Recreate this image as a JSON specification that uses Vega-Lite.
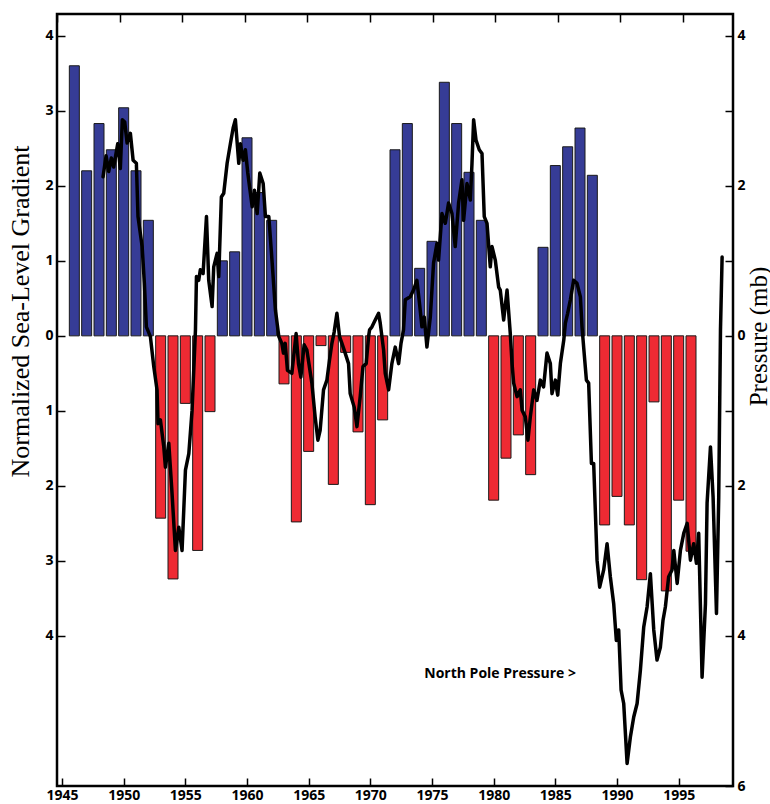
{
  "$schema": "https://vega.github.io/schema/vega-lite/v6.json",
  "width": 676,
  "height": 772,
  "autosize": {"type": "none"},
  "padding": {"left": 57, "top": 14, "right": 37, "bottom": 18},
  "background": "white",
  "config": {
    "view": {"stroke": "black", "strokeWidth": 2.5},
    "axis": {
      "domain": false,
      "grid": false,
      "ticks": true,
      "tickSize": -8,
      "tickColor": "black",
      "tickWidth": 1.5,
      "labelFont": "Open Sans",
      "labelFontWeight": "bold",
      "labelFontSize": 14,
      "labelColor": "black",
      "labelFlush": false,
      "labelOverlap": false,
      "titleFont": "Liberation Serif",
      "titleFontWeight": "normal",
      "titleFontSize": 26,
      "titleColor": "black"
    }
  },
  "datasets": {
    "bars": [
      {"year": 1946, "v": 3.6}, {"year": 1947, "v": 2.2}, {"year": 1948, "v": 2.83}, {"year": 1949, "v": 2.48},
      {"year": 1950, "v": 3.04}, {"year": 1951, "v": 2.2}, {"year": 1952, "v": 1.54}, {"year": 1953, "v": -2.43},
      {"year": 1954, "v": -3.24}, {"year": 1955, "v": -0.9}, {"year": 1956, "v": -2.86}, {"year": 1957, "v": -1.01},
      {"year": 1958, "v": 1.0}, {"year": 1959, "v": 1.12}, {"year": 1960, "v": 2.64}, {"year": 1961, "v": 1.91},
      {"year": 1962, "v": 1.54}, {"year": 1963, "v": -0.64}, {"year": 1964, "v": -2.48}, {"year": 1965, "v": -1.54},
      {"year": 1966, "v": -0.13}, {"year": 1967, "v": -1.98}, {"year": 1968, "v": -0.22}, {"year": 1969, "v": -1.28},
      {"year": 1970, "v": -2.25}, {"year": 1971, "v": -1.12}, {"year": 1972, "v": 2.48}, {"year": 1973, "v": 2.83},
      {"year": 1974, "v": 0.9}, {"year": 1975, "v": 1.26}, {"year": 1976, "v": 3.38}, {"year": 1977, "v": 2.83},
      {"year": 1978, "v": 2.18}, {"year": 1979, "v": 1.54}, {"year": 1980, "v": -2.19}, {"year": 1981, "v": -1.63},
      {"year": 1982, "v": -1.32}, {"year": 1983, "v": -1.85}, {"year": 1984, "v": 1.18}, {"year": 1985, "v": 2.27},
      {"year": 1986, "v": 2.52}, {"year": 1987, "v": 2.77}, {"year": 1988, "v": 2.14}, {"year": 1989, "v": -2.52},
      {"year": 1990, "v": -2.14}, {"year": 1991, "v": -2.52}, {"year": 1992, "v": -3.25}, {"year": 1993, "v": -0.88},
      {"year": 1994, "v": -3.4}, {"year": 1995, "v": -2.19}, {"year": 1996, "v": -2.87}
    ],
    "pressure": [
      {"year": 1948.68, "p": 2.12}, {"year": 1948.92, "p": 2.4}, {"year": 1949.13, "p": 2.19}, {"year": 1949.34, "p": 2.37},
      {"year": 1949.53, "p": 2.25}, {"year": 1949.85, "p": 2.56}, {"year": 1950.06, "p": 2.23}, {"year": 1950.22, "p": 2.88},
      {"year": 1950.41, "p": 2.85}, {"year": 1950.6, "p": 2.57}, {"year": 1950.86, "p": 2.7}, {"year": 1951.08, "p": 2.34},
      {"year": 1951.34, "p": 2.3}, {"year": 1951.47, "p": 1.59}, {"year": 1951.8, "p": 1.19}, {"year": 1951.98, "p": 0.7},
      {"year": 1952.14, "p": 0.12}, {"year": 1952.46, "p": -0.01}, {"year": 1952.73, "p": -0.41}, {"year": 1952.99, "p": -0.72},
      {"year": 1953.07, "p": -1.17}, {"year": 1953.26, "p": -1.12}, {"year": 1953.53, "p": -1.48}, {"year": 1953.66, "p": -1.75},
      {"year": 1953.93, "p": -1.43}, {"year": 1954.19, "p": -2.1}, {"year": 1954.46, "p": -2.86}, {"year": 1954.73, "p": -2.55},
      {"year": 1954.99, "p": -2.86}, {"year": 1955.26, "p": -1.79}, {"year": 1955.53, "p": -1.57}, {"year": 1955.79, "p": -0.99},
      {"year": 1956.06, "p": 0.08}, {"year": 1956.14, "p": 0.79}, {"year": 1956.32, "p": 0.74}, {"year": 1956.45, "p": 0.88},
      {"year": 1956.67, "p": 0.83}, {"year": 1956.94, "p": 1.59}, {"year": 1957.12, "p": 0.74}, {"year": 1957.39, "p": 0.39},
      {"year": 1957.52, "p": 0.92}, {"year": 1957.79, "p": 1.1}, {"year": 1957.92, "p": 0.79}, {"year": 1958.13, "p": 1.85},
      {"year": 1958.32, "p": 1.9}, {"year": 1958.59, "p": 2.3}, {"year": 1958.85, "p": 2.56}, {"year": 1959.07, "p": 2.77},
      {"year": 1959.25, "p": 2.88}, {"year": 1959.52, "p": 2.3}, {"year": 1959.65, "p": 2.56}, {"year": 1959.87, "p": 2.34},
      {"year": 1960.05, "p": 2.48}, {"year": 1960.24, "p": 2.17}, {"year": 1960.59, "p": 1.72}, {"year": 1960.77, "p": 1.94},
      {"year": 1960.99, "p": 1.63}, {"year": 1961.2, "p": 2.17}, {"year": 1961.47, "p": 2.03}, {"year": 1961.65, "p": 1.59},
      {"year": 1961.92, "p": 1.59}, {"year": 1962.19, "p": 0.97}, {"year": 1962.45, "p": 0.34}, {"year": 1962.72, "p": -0.01},
      {"year": 1962.96, "p": -0.1}, {"year": 1963.09, "p": -0.23}, {"year": 1963.23, "p": -0.1}, {"year": 1963.41, "p": -0.46},
      {"year": 1963.76, "p": -0.5}, {"year": 1964.1, "p": 0.03}, {"year": 1964.29, "p": -0.37}, {"year": 1964.48, "p": -0.55},
      {"year": 1964.74, "p": -0.12}, {"year": 1964.96, "p": -0.19}, {"year": 1965.36, "p": -0.63}, {"year": 1965.62, "p": -1.08},
      {"year": 1965.84, "p": -1.39}, {"year": 1966.02, "p": -1.26}, {"year": 1966.29, "p": -0.72}, {"year": 1966.56, "p": -0.59},
      {"year": 1966.77, "p": -0.32}, {"year": 1966.96, "p": -0.1}, {"year": 1967.14, "p": 0.05}, {"year": 1967.36, "p": 0.3},
      {"year": 1967.57, "p": -0.01}, {"year": 1967.76, "p": -0.1}, {"year": 1968.02, "p": -0.23}, {"year": 1968.29, "p": -0.37},
      {"year": 1968.42, "p": -0.77}, {"year": 1968.74, "p": -0.95}, {"year": 1968.96, "p": -1.21}, {"year": 1969.22, "p": -0.81},
      {"year": 1969.44, "p": -0.41}, {"year": 1969.7, "p": -0.37}, {"year": 1969.89, "p": -0.01}, {"year": 1969.97, "p": 0.08},
      {"year": 1970.16, "p": 0.12}, {"year": 1970.42, "p": 0.21}, {"year": 1970.69, "p": 0.3}, {"year": 1970.82, "p": 0.17},
      {"year": 1971.09, "p": -0.19}, {"year": 1971.22, "p": -0.5}, {"year": 1971.49, "p": -0.72}, {"year": 1971.75, "p": -0.37},
      {"year": 1972.02, "p": -0.15}, {"year": 1972.29, "p": -0.37}, {"year": 1972.48, "p": -0.1}, {"year": 1972.68, "p": 0.08},
      {"year": 1972.82, "p": 0.48}, {"year": 1973.22, "p": 0.52}, {"year": 1973.48, "p": 0.61}, {"year": 1973.75, "p": 0.74},
      {"year": 1973.96, "p": 0.43}, {"year": 1974.15, "p": 0.12}, {"year": 1974.34, "p": 0.25}, {"year": 1974.55, "p": -0.15},
      {"year": 1974.82, "p": 0.25}, {"year": 1975.08, "p": 0.97}, {"year": 1975.35, "p": 1.23}, {"year": 1975.48, "p": 1.01},
      {"year": 1975.75, "p": 1.63}, {"year": 1976.02, "p": 1.5}, {"year": 1976.28, "p": 1.77}, {"year": 1976.55, "p": 1.63},
      {"year": 1976.81, "p": 1.19}, {"year": 1977.08, "p": 1.77}, {"year": 1977.35, "p": 2.08}, {"year": 1977.48, "p": 1.54},
      {"year": 1977.75, "p": 2.03}, {"year": 1978.02, "p": 1.81}, {"year": 1978.15, "p": 2.3}, {"year": 1978.28, "p": 2.88},
      {"year": 1978.47, "p": 2.61}, {"year": 1978.73, "p": 2.48}, {"year": 1978.95, "p": 2.43}, {"year": 1979.13, "p": 1.59},
      {"year": 1979.35, "p": 1.5}, {"year": 1979.61, "p": 0.92}, {"year": 1979.75, "p": 1.19}, {"year": 1980.01, "p": 1.01},
      {"year": 1980.28, "p": 0.65}, {"year": 1980.41, "p": 0.61}, {"year": 1980.68, "p": 0.21}, {"year": 1980.95, "p": 0.61},
      {"year": 1981.21, "p": 0.03}, {"year": 1981.35, "p": -0.37}, {"year": 1981.48, "p": -0.63}, {"year": 1981.75, "p": -0.81},
      {"year": 1982.01, "p": -0.72}, {"year": 1982.15, "p": -0.99}, {"year": 1982.41, "p": -1.08}, {"year": 1982.62, "p": -1.39},
      {"year": 1982.81, "p": -1.08}, {"year": 1983.08, "p": -0.72}, {"year": 1983.34, "p": -0.86}, {"year": 1983.61, "p": -0.59},
      {"year": 1983.87, "p": -0.68}, {"year": 1984.14, "p": -0.23}, {"year": 1984.41, "p": -0.37}, {"year": 1984.54, "p": -0.77},
      {"year": 1984.81, "p": -0.59}, {"year": 1985.0, "p": -0.79}, {"year": 1985.21, "p": -0.37}, {"year": 1985.48, "p": -0.06},
      {"year": 1985.61, "p": 0.17}, {"year": 1985.79, "p": 0.3}, {"year": 1986.01, "p": 0.48}, {"year": 1986.27, "p": 0.74},
      {"year": 1986.54, "p": 0.7}, {"year": 1986.81, "p": 0.52}, {"year": 1986.94, "p": 0.12}, {"year": 1987.07, "p": -0.15},
      {"year": 1987.29, "p": -0.59}, {"year": 1987.47, "p": -0.63}, {"year": 1987.69, "p": -1.7}, {"year": 1987.87, "p": -1.7},
      {"year": 1988.14, "p": -2.99}, {"year": 1988.35, "p": -3.35}, {"year": 1988.67, "p": -3.12}, {"year": 1988.94, "p": -2.77},
      {"year": 1989.2, "p": -3.21}, {"year": 1989.47, "p": -3.57}, {"year": 1989.68, "p": -4.06}, {"year": 1989.87, "p": -3.92},
      {"year": 1990.06, "p": -4.72}, {"year": 1990.27, "p": -4.9}, {"year": 1990.54, "p": -5.7}, {"year": 1990.8, "p": -5.35},
      {"year": 1991.07, "p": -5.08}, {"year": 1991.34, "p": -4.9}, {"year": 1991.6, "p": -4.46}, {"year": 1991.87, "p": -3.88},
      {"year": 1992.14, "p": -3.61}, {"year": 1992.4, "p": -3.17}, {"year": 1992.67, "p": -3.92}, {"year": 1992.93, "p": -4.32},
      {"year": 1993.2, "p": -4.15}, {"year": 1993.41, "p": -3.79}, {"year": 1993.6, "p": -3.61}, {"year": 1993.86, "p": -3.21},
      {"year": 1994.13, "p": -3.12}, {"year": 1994.27, "p": -2.86}, {"year": 1994.54, "p": -3.3}, {"year": 1994.8, "p": -2.86},
      {"year": 1995.07, "p": -2.63}, {"year": 1995.34, "p": -2.5}, {"year": 1995.6, "p": -2.99}, {"year": 1995.86, "p": -2.77},
      {"year": 1996.08, "p": -3.03}, {"year": 1996.26, "p": -2.63}, {"year": 1996.53, "p": -4.55}, {"year": 1996.8, "p": -3.57},
      {"year": 1996.93, "p": -2.23}, {"year": 1997.2, "p": -1.48}, {"year": 1997.41, "p": -2.15}, {"year": 1997.68, "p": -3.7},
      {"year": 1997.86, "p": -2.15}, {"year": 1998.0, "p": 0.08}, {"year": 1998.13, "p": 1.05}
    ],
    "note": [{"year": 1980.4, "p": -4.51, "label": "North Pole Pressure >"}]
  },
  "layer": [
    {
      "data": {"name": "bars"},
      "mark": {"type": "bar", "size": 10, "stroke": "#1a1a1a", "strokeWidth": 1},
      "encoding": {
        "x": {
          "field": "year", "type": "quantitative",
          "scale": {"domain": [1945, 1999], "nice": false, "zero": false},
          "axis": {"orient": "bottom", "title": null, "values": [1945, 1950, 1955, 1960, 1965, 1970, 1975, 1980, 1985, 1990, 1995], "format": "d", "labelPadding": 10, "labelFontSize": 14}
        },
        "y": {
          "field": "v", "type": "quantitative",
          "scale": {"domain": [-6, 4.29], "nice": false, "zero": false},
          "axis": {
            "orient": "left",
            "title": "Normalized Sea-Level Gradient",
            "values": [-4, -3, -2, -1, 0, 1, 2, 3, 4],
            "labelExpr": "format(abs(datum.value), 'd')",
            "labelPadding": 12,
            "titleAngle": 270,
            "titleAlign": "center",
            "titleBaseline": "middle",
            "titleX": -37,
            "titleY": 297
          }
        },
        "color": {"condition": {"test": "datum.v > 0", "value": "#363C96"}, "value": "#EE2A33"}
      }
    },
    {
      "data": {"name": "pressure"},
      "mark": {"type": "line", "color": "black", "strokeWidth": 3.5, "strokeJoin": "round", "strokeCap": "round"},
      "encoding": {
        "x": {
          "field": "year", "type": "quantitative",
          "scale": {"domain": [1945, 1999], "nice": false, "zero": false},
          "axis": {"orient": "top", "title": null, "values": [1945, 1950, 1955, 1960, 1965, 1970, 1975, 1980, 1985, 1990, 1995], "labels": false}
        },
        "y": {
          "field": "p", "type": "quantitative",
          "scale": {"domain": [-6, 4.29], "nice": false, "zero": false},
          "axis": {
            "orient": "right",
            "title": "Pressure (mb)",
            "values": [-6, -4, -3, -2, -1, 0, 1, 2, 3, 4],
            "labelExpr": "datum.value % 2 == 0 ? format(abs(datum.value), 'd') : ''",
            "labelPadding": 12,
            "titleAngle": 270,
            "titleAlign": "center",
            "titleBaseline": "middle",
            "titleX": 25,
            "titleY": 322,
            "titleFontSize": 25
          }
        }
      }
    },
    {
      "data": {"name": "note"},
      "mark": {"type": "text", "font": "Open Sans", "fontWeight": "bold", "fontSize": 14, "color": "black", "align": "center", "baseline": "middle"},
      "encoding": {
        "x": {"field": "year", "type": "quantitative", "scale": {"domain": [1945, 1999], "nice": false, "zero": false}, "axis": null},
        "y": {"field": "p", "type": "quantitative", "scale": {"domain": [-6, 4.29], "nice": false, "zero": false}, "axis": null},
        "text": {"field": "label"}
      }
    }
  ],
  "resolve": {"scale": {"x": "independent", "y": "independent"}}
}
